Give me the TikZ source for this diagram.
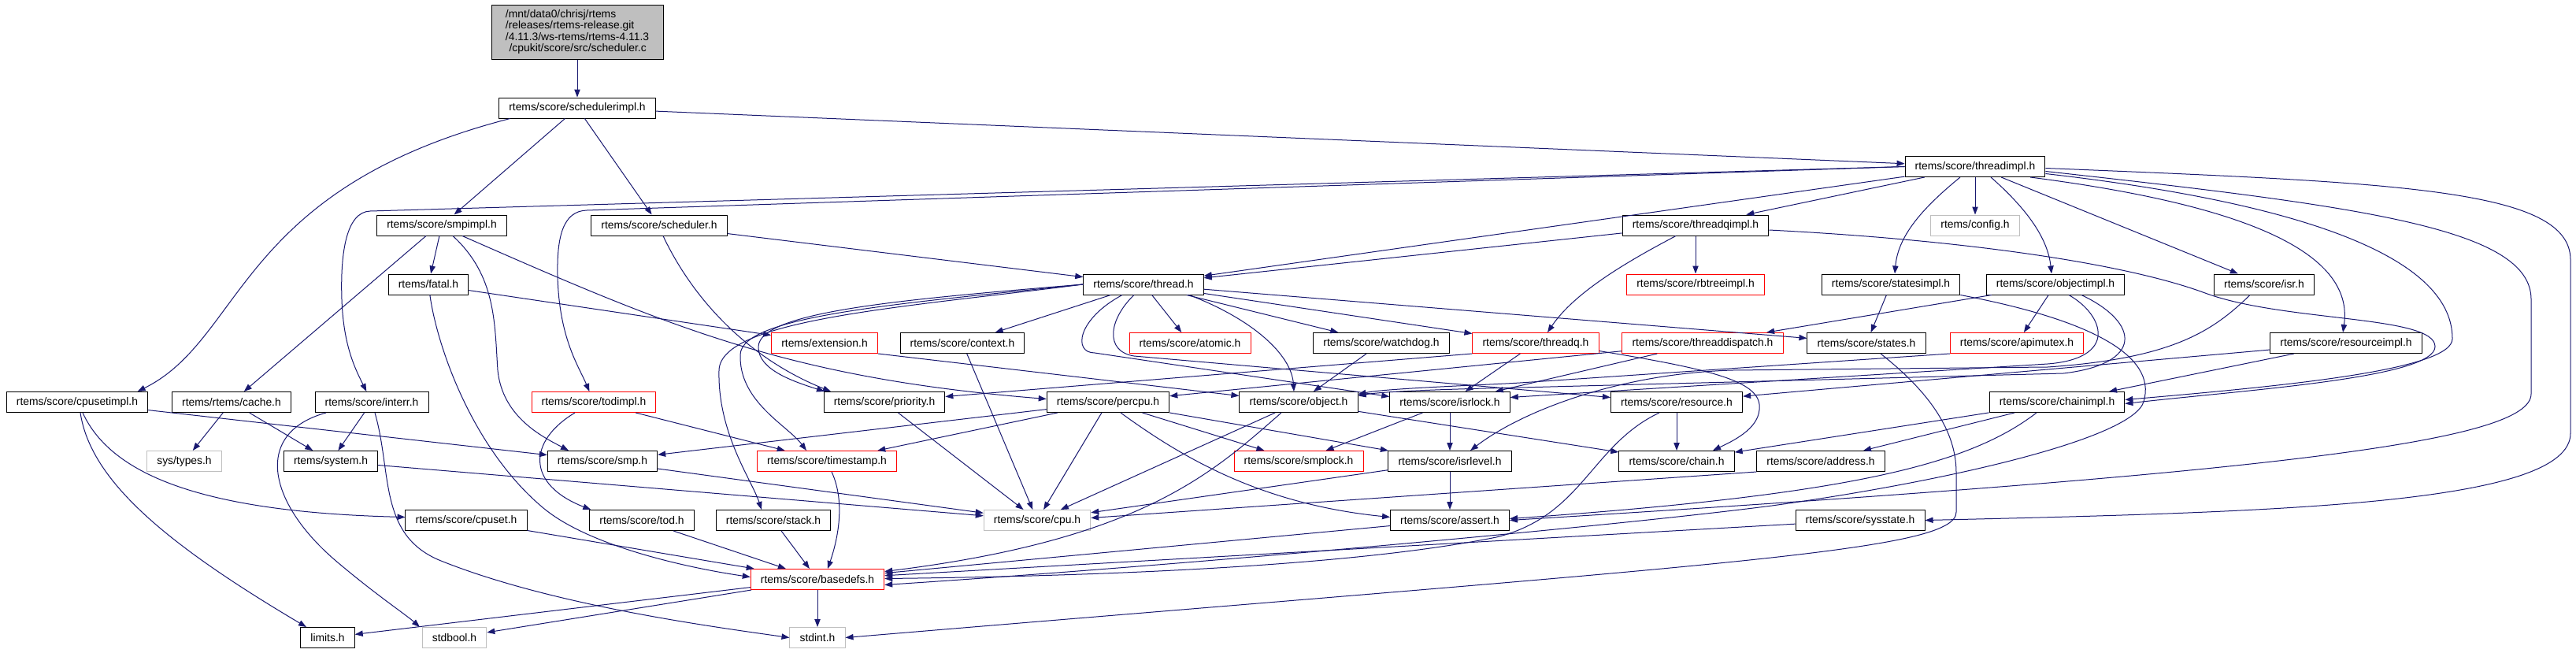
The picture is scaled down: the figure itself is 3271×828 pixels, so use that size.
\documentclass[tikz,border=0pt]{standalone}
\usepackage{fontspec}
\usetikzlibrary{
    arrows.meta,
    calc
}
\newfontfamily\graphfont{Liberation Sans}
\definecolor{incl}{RGB}{25,25,112}
\definecolor{stubgrey}{RGB}{191,191,191}
\tikzset{
    every picture/.style = {
        > = {Triangle[length = 7.5pt, width = 5.5pt]},
        line width = 0.75pt
    },
    every edge/.append style = {draw = incl},
    header/.style = {
        draw = black,
        fill = white,
        inner xsep = 9.5pt,
        inner ysep = 0pt,
        minimum height = 19.5pt,
        font = \graphfont\fontsize{10.4}{10.8}\selectfont
    },
    truncated/.style = {header, draw = red},
    external/.style = {header, draw = stubgrey},
    source/.style = {
        header,
        fill = stubgrey,
        align = left,
        minimum width = 163.5pt,
        minimum height = 51.75pt
    },
    link/.style = {->, draw = incl}
}

\begin{document}
\begin{tikzpicture}[x = 0.75pt, y = -0.75pt]
                \useasboundingbox (0, 0) rectangle (3271, 828);
                \node[source] (src) at (733, 40.5) {/mnt/data0/chrisj/rtems\\/releases/rtems-release.git\\/4.11.3/ws-rtems/rtems-4.11.3\\\hspace*{3.5pt}/cpukit/score/src/scheduler.c};
                \node[header] (schedimpl) at (733, 137) {rtems/score/schedulerimpl.h};
                \node[header] (threadimpl) at (2508, 211.5) {rtems/score/threadimpl.h};
                \node[header] (smpimpl) at (561, 286) {rtems/score/smpimpl.h};
                \node[header] (scheduler) at (837, 286) {rtems/score/scheduler.h};
                \node[header] (threadqimpl) at (2153, 286) {rtems/score/threadqimpl.h};
                \node[external] (config) at (2508, 286) {rtems/config.h};
                \node[header] (fatal) at (544, 361) {rtems/fatal.h};
                \node[header] (thread) at (1452, 361) {rtems/score/thread.h};
                \node[truncated] (rbtreeimpl) at (2153, 361) {rtems/score/rbtreeimpl.h};
                \node[header] (statesimpl) at (2401, 361) {rtems/score/statesimpl.h};
                \node[header] (objectimpl) at (2610, 361) {rtems/score/objectimpl.h};
                \node[header] (isr) at (2875, 361) {rtems/score/isr.h};
                \node[truncated] (extension) at (1047, 435.5) {rtems/extension.h};
                \node[header] (context) at (1222, 435.5) {rtems/score/context.h};
                \node[truncated] (atomic) at (1511, 435.5) {rtems/score/atomic.h};
                \node[header] (watchdog) at (1754, 435.5) {rtems/score/watchdog.h};
                \node[truncated] (threadq) at (1950, 435.5) {rtems/score/threadq.h};
                \node[truncated] (threaddispatch) at (2162, 435.5) {rtems/score/threaddispatch.h};
                \node[header] (states) at (2370, 435.5) {rtems/score/states.h};
                \node[truncated] (apimutex) at (2561, 435.5) {rtems/score/apimutex.h};
                \node[header] (resourceimpl) at (2979, 435.5) {rtems/score/resourceimpl.h};
                \node[header] (cpusetimpl) at (98, 510.5) {rtems/score/cpusetimpl.h};
                \node[header] (cache) at (294, 510.5) {rtems/rtems/cache.h};
                \node[header] (interr) at (472, 510.5) {rtems/score/interr.h};
                \node[truncated] (todimpl) at (754, 510.5) {rtems/score/todimpl.h};
                \node[header] (priority) at (1123, 510.5) {rtems/score/priority.h};
                \node[header] (percpu) at (1407, 510.5) {rtems/score/percpu.h};
                \node[header] (object) at (1649, 510.5) {rtems/score/object.h};
                \node[header] (isrlock) at (1841, 510.5) {rtems/score/isrlock.h};
                \node[header] (resource) at (2129, 510.5) {rtems/score/resource.h};
                \node[header] (chainimpl) at (2612, 510.5) {rtems/score/chainimpl.h};
                \node[external] (systypes) at (234, 585.5) {sys/types.h};
                \node[header] (system) at (420, 585.5) {rtems/system.h};
                \node[header] (smp) at (765, 585.5) {rtems/score/smp.h};
                \node[truncated] (timestamp) at (1050, 585.5) {rtems/score/timestamp.h};
                \node[truncated] (smplock) at (1649, 585.5) {rtems/score/smplock.h};
                \node[header] (isrlevel) at (1841, 585.5) {rtems/score/isrlevel.h};
                \node[header] (chain) at (2129, 585.5) {rtems/score/chain.h};
                \node[header] (address) at (2312, 585.5) {rtems/score/address.h};
                \node[header] (cpuset) at (592, 660.5) {rtems/score/cpuset.h};
                \node[header] (tod) at (815, 660.5) {rtems/score/tod.h};
                \node[header] (stack) at (982, 660.5) {rtems/score/stack.h};
                \node[external] (cpu) at (1317, 660.5) {rtems/score/cpu.h};
                \node[header] (assert) at (1841, 660.5) {rtems/score/assert.h};
                \node[header] (sysstate) at (2362, 660.5) {rtems/score/sysstate.h};
                \node[truncated] (basedefs) at (1038, 735.5) {rtems/score/basedefs.h};
                \node[header] (limits) at (416, 809.5) {limits.h};
                \node[external] (stdbool) at (577, 809.5) {stdbool.h};
                \node[external] (stdint) at (1038, 809.5) {stdint.h};
                % straight includes
                \path[->] (src) edge (schedimpl);
                \path[->] (schedimpl) edge (smpimpl);
                \path[->] (schedimpl) edge (scheduler);
                \path[->] (schedimpl) edge (threadimpl);
                \path[->] (threadimpl) edge (thread);
                \path[->] (threadimpl) edge (threadqimpl);
                \path[->] (threadimpl) edge (config);
                \path[->] (threadimpl) edge (isr);
                \path[->] (threadqimpl) edge (thread);
                \path[->] (threadqimpl) edge (rbtreeimpl);
                \path[->] ($(smpimpl.south) + (-20, 0)$) edge (cache);
                \path[->] (smpimpl) edge (fatal);
                \path[->] (scheduler) edge (thread);
                \path[->] (thread) edge (context);
                \path[->] (thread) edge (atomic);
                \path[->] (thread) edge (watchdog);
                \path[->] (thread) edge (threadq);
                \path[->] (thread) edge (states);
                \path[->] (fatal) edge (extension);
                \path[->] (statesimpl) edge (states);
                \path[->] (objectimpl) edge (threaddispatch);
                \path[->] (objectimpl) edge (apimutex);
                \path[->] (extension.south east) edge ($(object.west) + (0, -8)$);
                \path[->] (context) edge (cpu);
                \path[->] (watchdog) edge (object);
                \path[->] (threadq) edge (isrlock);
                \path[->] (threadq.south west) edge ($(priority.east) + (0, -7)$);
                \path[->] (threaddispatch) edge (percpu);
                \path[->] (threaddispatch) edge (isrlock);
                \path[->] (resourceimpl) edge (resource);
                \path[->] (resourceimpl) edge (chainimpl);
                \path[->] (cpusetimpl) edge (smp);
                \path[->] (cache) edge (systypes);
                \path[->] (cache) edge (system);
                \path[->] (interr) edge (system);
                \path[->] (todimpl) edge (timestamp);
                \path[->] (priority) edge (cpu);
                \path[->] (percpu) edge (smp);
                \path[->] (percpu) edge (timestamp);
                \path[->] (percpu) edge (cpu);
                \path[->] (percpu) edge (smplock);
                \path[->] (percpu) edge (isrlevel);
                \path[->] (object) edge (cpu);
                \path[->] (object) edge (chain);
                \path[->] (isrlock) edge (smplock);
                \path[->] (isrlock) edge (isrlevel);
                \path[->] (resource) edge (chain);
                \path[->] (chainimpl) edge (chain);
                \path[->] (chainimpl) edge (address);
                \path[->] (smp) edge (cpu);
                \path[->] (system) edge (cpu);
                \path[->] (isrlevel) edge (cpu);
                \path[->] (isrlevel) edge (assert);
                \path[->] (address.south west) edge ($(cpu.east) + (0, -3)$);
                \path[->] (cpuset) edge (basedefs);
                \path[->] (tod) edge (basedefs);
                \path[->] (stack) edge (basedefs);
                \path[->] (assert) edge (basedefs);
                \path[->] (sysstate) edge (basedefs);
                \path[->] (basedefs) edge (limits);
                \path[->] (basedefs) edge (stdbool);
                \path[->] (basedefs) edge (stdint);
                % routed includes
                \draw[link] (schedimpl.189) .. controls (300, 240) and (310, 430) .. (cpusetimpl.10);
                \draw[link] (threadimpl.west) -- (470, 268) .. controls (440, 269) and (432, 320) .. (434, 380) .. controls (436, 440) and (452, 470) .. (interr);
                \draw[link] (threadimpl.west) -- (745, 267) .. controls (715, 268) and (707, 300) .. (708, 350) .. controls (710, 430) and (735, 465) .. (todimpl);
                \draw[link] ($(threadimpl.south) + (-19, 0)$) .. controls (2440, 265) and (2410, 300) .. ($(statesimpl.north) + (5, 0)$);
                \draw[link] ($(threadimpl.south) + (20, 0)$) .. controls (2570, 262) and (2600, 300) .. ($(objectimpl.north) + (-5, 0)$);
                \draw[link] ($(threadimpl.south) + (70, 0)$) .. controls (2850, 260) and (2990, 320) .. ($(resourceimpl.north) + (-4, 0)$);
                \draw[link] ($(threadimpl.east) + (0, 9)$) .. controls (2900, 255) and (3114, 320) .. (3114, 430) .. controls (3114, 470) and (2900, 490) .. ($(chainimpl.east) + (0, -3)$);
                \draw[link] ($(threadimpl.east) + (0, 6)$) .. controls (3000, 262) and (3214, 290) .. (3214, 380) -- (3214, 500) .. controls (3214, 560) and (2900, 600) .. (assert.east);
                \draw[link] ($(threadimpl.east) + (0, 2)$) .. controls (3050, 232) and (3264, 240) .. (3264, 330) -- (3264, 550) .. controls (3264, 640) and (2900, 650) .. (sysstate.east);
                \draw[link] ($(threadqimpl.south) + (-25, 0)$) .. controls (2070, 330) and (2000, 370) .. ($(threadq.north) + (15, 0)$);
                \draw[link] ($(threadqimpl.east) + (0, 6)$) .. controls (2500, 305) and (2700, 335) .. (2800, 372) .. controls (2900, 409) and (3092, 400) .. (3092, 440) .. controls (3092, 480) and (2850, 495) .. ($(chainimpl.east) + (0, 2)$);
                \draw[link] ($(smpimpl.south) + (14, 0)$) .. controls (630, 350) and (628, 410) .. (632, 470) .. controls (638, 530) and (690, 555) .. ($(smp.north) + (-43, 0)$);
                \draw[link] ($(smpimpl.south) + (26, 0)$) .. controls (850, 415) and (1000, 480) .. ($(percpu.west) + (0, -4)$);
                \draw[link] ($(scheduler.south) + (5, 0)$) .. controls (880, 380) and (950, 455) .. ($(priority.north) + (-68, 0)$);
                \draw[link] (thread.west) .. controls (1150, 380) and (965, 395) .. (963, 440) .. controls (962, 470) and (1010, 485) .. ($(priority.north) + (-76, 0)$);
                \draw[link] (thread.west) .. controls (1150, 385) and (942, 400) .. (940, 450) .. controls (938, 510) and (1000, 540) .. ($(timestamp.north) + (-26, 0)$);
                \draw[link] (thread.west) .. controls (1150, 390) and (915, 405) .. (913, 470) .. controls (911, 550) and (955, 610) .. ($(stack.north) + (-15, 0)$);
                \draw[link] ($(thread.south) + (-27, 0)$) .. controls (1368, 405) and (1362, 448) .. (1390, 448) -- ($(isrlock.west) + (0, -7)$);
                \draw[link] ($(thread.south) + (-12, 0)$) .. controls (1408, 405) and (1402, 446) .. (1440, 452) -- ($(resource.west) + (0, -6)$);
                \draw[link] ($(thread.south) + (58, 0)$) .. controls (1590, 405) and (1640, 450) .. ($(object.north) + (-6, 0)$);
                \draw[link] (fatal) .. controls (555, 440) and (600, 570) .. (690, 645) .. controls (750, 695) and (880, 722) .. ($(basedefs.west) + (0, -3)$);
                \draw[link] ($(cpusetimpl.south) + (4, 0)$) .. controls (115, 610) and (210, 690) .. ($(limits.north) + (-27, 0)$);
                \draw[link] ($(cpusetimpl.south) + (7, 0)$) .. controls (140, 600) and (250, 650) .. ($(cpuset.west) + (0, -4)$);
                \draw[link] ($(interr.south) + (-58, 0)$) .. controls (320, 550) and (340, 640) .. (430, 715) .. controls (480, 757) and (515, 780) .. ($(stdbool.north) + (-44, 0)$);
                \draw[link] ($(interr.south) + (4, 0)$) .. controls (498, 600) and (480, 680) .. (560, 712) .. controls (700, 768) and (900, 795) .. (stdint.west);
                \draw[link] ($(todimpl.south) + (-24, 0)$) .. controls (670, 560) and (668, 615) .. ($(tod.north west) + (2, 0)$);
                \draw[link] ($(percpu.south) + (16, 0)$) .. controls (1500, 580) and (1600, 640) .. ($(assert.west) + (0, -4)$);
                \draw[link] ($(object.south) + (-22, 0)$) .. controls (1540, 600) and (1450, 685) .. ($(basedefs.east) + (0, -10)$);
                \draw[link] ($(resource.south) + (-22, 0)$) .. controls (2020, 565) and (2010, 655) .. (1900, 682) .. controls (1700, 722) and (1350, 732) .. ($(basedefs.east) + (0, -1)$);
                \draw[link] ($(timestamp.south) + (6, 0)$) .. controls (1075, 640) and (1062, 690) .. ($(basedefs.north) + (13, 0)$);
                \draw[link] ($(chainimpl.south) + (-26, 0)$) .. controls (2500, 590) and (2350, 628) .. ($(assert.east) + (0, -2)$);
                \draw[link] (statesimpl.south east) .. controls (2650, 405) and (2740, 450) .. (2722, 510) .. controls (2708, 556) and (2480, 610) .. (2250, 642) .. controls (2050, 668) and (1500, 718) .. ($(basedefs.east) + (0, 7)$);
                \draw[link] ($(states.south) + (18, 0)$) .. controls (2440, 490) and (2484, 540) .. (2484, 600) -- (2484, 650) .. controls (2484, 700) and (2200, 715) .. (stdint.east);
                \draw[link] ($(objectimpl.south) + (17, 0)$) .. controls (2672, 400) and (2690, 455) .. (2600, 462) -- ($(isrlock.east) + (0, -6)$);
                \draw[link] ($(objectimpl.south) + (33, 0)$) .. controls (2718, 410) and (2722, 462) .. (2620, 474) -- (1930, 492) .. controls (1880, 493) and (1760, 496) .. ($(object.east) + (0, -8)$);
                \draw[link] (apimutex.south west) -- (1930, 486) .. controls (1880, 489) and (1760, 493) .. ($(object.east) + (0, -10)$);
                \draw[link] ($(isr.south) + (-18, 0)$) .. controls (2810, 420) and (2760, 455) .. (2600, 466) -- (2200, 470) .. controls (2060, 474) and (1935, 520) .. ($(isrlevel.north) + (26, 0)$);
                \draw[link] ($(threadq.east) + (0, 10)$) .. controls (2180, 470) and (2238, 485) .. (2234, 520) .. controls (2232, 545) and (2200, 560) .. ($(chain.north) + (46, 0)$);
            \end{tikzpicture}
\end{document}
